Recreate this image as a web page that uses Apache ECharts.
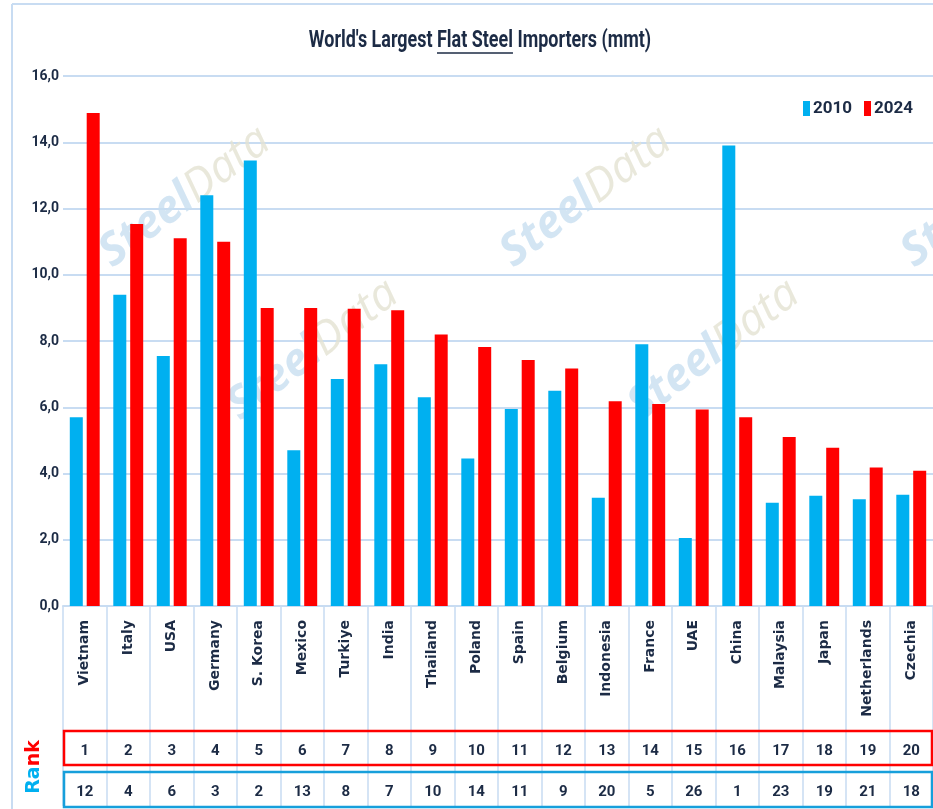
<!DOCTYPE html>
<html>
<head>
<meta charset="utf-8">
<script src="https://cdn.jsdelivr.net/npm/echarts@6/dist/echarts.min.js"></script>
<style>
  html, body { margin: 0; padding: 0; background: #fff; }
  #main { width: 933px; height: 809px; }
</style>
</head>
<body>
<div id="main"></div>
<script>
var countries = ["Vietnam", "Italy", "USA", "Germany", "S. Korea", "Mexico", "Turkiye", "India", "Thailand", "Poland",
  "Spain", "Belgium", "Indonesia", "France", "UAE", "China", "Malaysia", "Japan", "Netherlands", "Czechia"];
var imports2010 = [5.7, 9.4, 7.55, 12.4, 13.45, 4.7, 6.85, 7.3, 6.3, 4.45, 5.95, 6.5, 3.27, 7.9, 2.05, 13.9, 3.12, 3.33, 3.22, 3.36];
var imports2024 = [14.88, 11.53, 11.1, 11.0, 9.0, 9.0, 8.97, 8.93, 8.2, 7.82, 7.43, 7.17, 6.18, 6.1, 5.93, 5.7, 5.1, 4.78, 4.18, 4.08];
var rank2024 = [1, 2, 3, 4, 5, 6, 7, 8, 9, 10, 11, 12, 13, 14, 15, 16, 17, 18, 19, 20];
var rank2010 = [12, 4, 6, 3, 2, 13, 8, 7, 10, 14, 11, 9, 20, 5, 26, 1, 23, 19, 21, 18];

var BLUE = "#00b0f0";
var RED = "#ff0000";
var INK = "#1c2b45";
var GRIDC = "#c8dcf2";
var FONT = "Roboto, sans-serif";

var chartDom = document.getElementById("main");
var myChart = echarts.init(chartDom);

// title is drawn squeezed horizontally, "Flat Steel" underlined
var titleText = "World's Largest Flat Steel Importers (mmt)";
var ctx = document.createElement("canvas").getContext("2d");
ctx.font = "bold 23px Roboto";
var fullW = ctx.measureText(titleText).width;
var preW = ctx.measureText("World's Largest ").width;
var flatW = ctx.measureText("Flat Steel").width;
var ulX = -fullW / 2 + preW;

function watermark(x, y) {
  return {
    type: "text",
    x: x,
    y: y,
    rotation: 0.65,
    z: 1,
    silent: true,
    style: {
      x: 0,
      y: 0,
      text: "{s|Steel}{d|Data}",
      align: "center",
      verticalAlign: "middle",
      rich: {
        s: { fontSize: 45, fontStyle: "italic", fontWeight: "bold", fill: "rgba(200,222,240,0.8)", fontFamily: "'Open Sans', sans-serif" },
        d: { fontSize: 45, fontStyle: "italic", fontWeight: "normal", fill: "rgba(228,226,210,0.8)", fontFamily: "'Open Sans', sans-serif" }
      }
    }
  };
}

var catAxisBase = {
  type: "category",
  data: countries,
  gridIndex: 0,
  position: "bottom"
};

var option = {
  backgroundColor: "#fff",
  animation: false,
  legend: {
    data: ["2010", "2024"],
    right: 15,
    top: 95,
    itemWidth: 7,
    itemHeight: 15,
    itemGap: 12,
    icon: "rect",
    textStyle: { fontFamily: FONT, fontSize: 17, fontWeight: "bold", color: INK, padding: [0, 0, 0, -2] }
  },
  grid: { left: 63, right: 0, top: 76, bottom: 203, containLabel: false },
  xAxis: [
    Object.assign({}, catAxisBase, {
      axisLine: { lineStyle: { color: GRIDC, width: 2 } },
      axisTick: { show: true, length: 200, lineStyle: { color: GRIDC, width: 1.5 } },
      axisLabel: {
        rotate: 90,
        interval: 0,
        margin: 14,
        fontFamily: "'DejaVu Sans', sans-serif",
        fontWeight: "bold",
        fontSize: 14,
        color: INK
      }
    }),
    Object.assign({}, catAxisBase, {
      data: rank2024.map(String),
      offset: 138,
      axisLine: { show: false },
      axisTick: { show: false },
      axisLabel: { interval: 0, margin: 0, fontFamily: FONT, fontWeight: "bold", fontSize: 15, color: INK }
    }),
    Object.assign({}, catAxisBase, {
      data: rank2010.map(String),
      offset: 179,
      axisLine: { show: false },
      axisTick: { show: false },
      axisLabel: { interval: 0, margin: 0, fontFamily: FONT, fontWeight: "bold", fontSize: 15, color: INK }
    })
  ],
  yAxis: {
    type: "value",
    min: 0,
    max: 16,
    interval: 2,
    axisLine: { show: false },
    axisTick: { show: false },
    splitLine: { lineStyle: { color: GRIDC, width: 2 } },
    axisLabel: {
      margin: 4,
      fontFamily: FONT,
      fontWeight: "bold",
      fontSize: 14,
      color: INK,
      formatter: function (v) { return v.toFixed(1).replace(".", ","); }
    }
  },
  graphic: [
    { type: "line", silent: true, shape: { x1: 12, y1: 4, x2: 933, y2: 4 }, style: { stroke: GRIDC, lineWidth: 2 } },
    { type: "line", silent: true, shape: { x1: 12, y1: 4, x2: 12, y2: 809 }, style: { stroke: GRIDC, lineWidth: 2 } },
    {
      type: "group",
      x: 480,
      y: 41,
      scaleX: 0.78,
      silent: true,
      children: [
        {
          type: "text",
          style: {
            x: 0, y: 0, text: titleText, align: "center", verticalAlign: "middle",
            fontFamily: "Roboto", fontWeight: "bold", fontSize: 23, fill: INK
          }
        },
        { type: "line", shape: { x1: ulX, y1: 12, x2: ulX + flatW, y2: 12 }, style: { stroke: INK, lineWidth: 1.6 } }
      ]
    },
    watermark(185, 197),
    watermark(586, 197),
    watermark(987, 197),
    watermark(313, 350),
    watermark(714, 350),
    { type: "rect", silent: true, z: 5, shape: { x: 64, y: 731, width: 868, height: 34 }, style: { fill: "none", stroke: RED, lineWidth: 2.5 } },
    { type: "rect", silent: true, z: 5, shape: { x: 64, y: 772, width: 868, height: 35 }, style: { fill: "none", stroke: "#169fdb", lineWidth: 2.5 } },
    {
      type: "text",
      x: 34,
      y: 767,
      rotation: Math.PI / 2,
      silent: true,
      style: {
        x: 0,
        y: 0,
        text: "{b|Ra}{r|nk}",
        align: "center",
        verticalAlign: "middle",
        rich: {
          b: { fontFamily: "'DejaVu Sans', sans-serif", fontWeight: "bold", fontSize: 19, fill: BLUE },
          r: { fontFamily: "'DejaVu Sans', sans-serif", fontWeight: "bold", fontSize: 19, fill: RED }
        }
      }
    }
  ],
  series: [
    {
      name: "2010",
      type: "bar",
      data: imports2010,
      barWidth: 13,
      barGap: "30%",
      itemStyle: { color: BLUE },
      z: 3
    },
    {
      name: "2024",
      type: "bar",
      data: imports2024,
      barWidth: 13,
      barGap: "30%",
      itemStyle: { color: RED },
      z: 3
    }
  ]
};

option && myChart.setOption(option);
</script>
</body>
</html>
